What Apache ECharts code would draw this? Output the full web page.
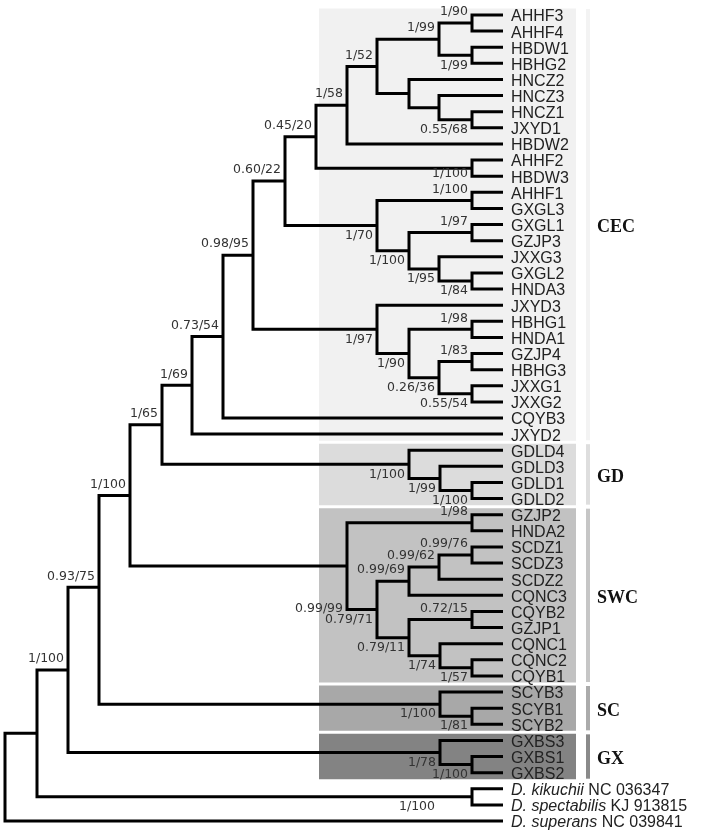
<!DOCTYPE html>
<html>
<head>
<meta charset="utf-8">
<script src="https://cdn.jsdelivr.net/npm/echarts@6/dist/echarts.min.js"></script>
<style>html,body{margin:0;padding:0;background:#fff}#c{width:708px;height:835px}</style>
</head>
<body>
<div id="c"></div>
<script>
// ---- DATA ----
// Leaf order, top to bottom
const leaves = ['AHHF3','AHHF4','HBDW1','HBHG2','HNCZ2','HNCZ3','HNCZ1','JXYD1','HBDW2','AHHF2',
  'HBDW3','AHHF1','GXGL3','GXGL1','GZJP3','JXXG3','GXGL2','HNDA3','JXYD3','HBHG1',
  'HNDA1','GZJP4','HBHG3','JXXG1','JXXG2','CQYB3','JXYD2','GDLD4','GDLD3','GDLD1',
  'GDLD2','GZJP2','HNDA2','SCDZ1','SCDZ3','SCDZ2','CQNC3','CQYB2','GZJP1','CQNC1',
  'CQNC2','CQYB1','SCYB3','SCYB1','SCYB2','GXBS3','GXBS1','GXBS2','kikuchii','spectabilis','superans'];
// Displayed names of leaves (rich text for italic species names)
const leafText = {
  kikuchii: '{i|D. kikuchii} NC 036347',
  spectabilis: '{i|D. spectabilis} KJ 913815',
  superans: '{i|D. superans} NC 039841'
};
// Tip position (all tips aligned)
const tipDepth = 503;
// Internal nodes: [id, depth, upper child, lower child, support (PP/BS)]
const internalNodes = [
  ['root', 5, 'nA', 'superans', ''],
  ['nA', 37, 'nB', 'nOut', ''],
  ['nOut', 472, 'kikuchii', 'spectabilis', '1/100'],
  ['nB', 68, 'nC', 'nGX', '1/100'],
  ['nGX', 440, 'GXBS3', 'nGXb', '1/78'],
  ['nGXb', 472, 'GXBS1', 'GXBS2', '1/100'],
  ['nC', 99, 'nD', 'nSC', '0.93/75'],
  ['nSC', 440, 'SCYB3', 'nSCb', '1/100'],
  ['nSCb', 472, 'SCYB1', 'SCYB2', '1/81'],
  ['nD', 130, 'nE', 'nSWC', '1/100'],
  ['nSWC', 347, 'ns1', 'ns2', '0.99/99'],
  ['ns1', 472, 'GZJP2', 'HNDA2', '1/98'],
  ['ns2', 377, 'ns3', 'ns4', '0.79/71'],
  ['ns3', 409, 'ns5', 'CQNC3', '0.99/69'],
  ['ns5', 439, 'ns6', 'SCDZ2', '0.99/62'],
  ['ns6', 472, 'SCDZ1', 'SCDZ3', '0.99/76'],
  ['ns4', 409, 'ns7', 'ns8', '0.79/11'],
  ['ns7', 472, 'CQYB2', 'GZJP1', '0.72/15'],
  ['ns8', 440, 'CQNC1', 'ns9', '1/74'],
  ['ns9', 472, 'CQNC2', 'CQYB1', '1/57'],
  ['nE', 162, 'nF', 'nGD', '1/65'],
  ['nGD', 409, 'GDLD4', 'ng1', '1/100'],
  ['ng1', 440, 'GDLD3', 'ng2', '1/99'],
  ['ng2', 472, 'GDLD1', 'GDLD2', '1/100'],
  ['nF', 192, 'nG', 'JXYD2', '1/69'],
  ['nG', 223, 'nH', 'CQYB3', '0.73/54'],
  ['nH', 253, 'nI', 'nY', '0.98/95'],
  ['nY', 377, 'JXYD3', 'nZ', '1/97'],
  ['nZ', 409, 'nZ1', 'nZ2', '1/90'],
  ['nZ1', 472, 'HBHG1', 'HNDA1', '1/98'],
  ['nZ2', 439, 'nZ3', 'nZ4', '0.26/36'],
  ['nZ3', 472, 'GZJP4', 'HBHG3', '1/83'],
  ['nZ4', 472, 'JXXG1', 'JXXG2', '0.55/54'],
  ['nI', 285, 'nJ', 'nS', '0.60/22'],
  ['nS', 377, 'nT', 'nU', '1/70'],
  ['nT', 472, 'AHHF1', 'GXGL3', '1/100'],
  ['nU', 409, 'nV', 'nW', '1/100'],
  ['nV', 472, 'GXGL1', 'GZJP3', '1/97'],
  ['nW', 439, 'JXXG3', 'nX', '1/95'],
  ['nX', 472, 'GXGL2', 'HNDA3', '1/84'],
  ['nJ', 316, 'nK', 'nR', '0.45/20'],
  ['nR', 472, 'AHHF2', 'HBDW3', '1/100'],
  ['nK', 347, 'nL', 'HBDW2', '1/58'],
  ['nL', 377, 'nM', 'nO', '1/52'],
  ['nM', 439, 'nN1', 'nN2', '1/99'],
  ['nN1', 472, 'AHHF3', 'AHHF4', '1/90'],
  ['nN2', 472, 'HBDW1', 'HBHG2', '1/99'],
  ['nO', 409, 'HNCZ2', 'nP', ''],
  ['nP', 439, 'HNCZ3', 'nQ', ''],
  ['nQ', 472, 'HNCZ1', 'JXYD1', '0.55/68']
];
// Node drawn off-midpoint in the figure (leaf-row units)
const nodeRowOverride = { nC: 35.5 };
// Clades
const groupNames = ['CEC', 'GD', 'SWC', 'SC', 'GX'];
const groupFirstLeaf = [0, 27, 31, 42, 45];
const groupLastLeaf = [26, 30, 41, 44, 47];

// ---- STYLE / LAYOUT ----
const panelColors = ['#f1f1f1', '#dcdcdc', '#c2c2c2', '#a8a8a8', '#838383'];
const barColors = ['#f3f3f3', '#dedede', '#c6c6c6', '#ababab', '#8a8a8a'];
const panelLeft = 319, panelRight = 576, barLeft = 586, barRight = 590, groupLabelX = 597;
const labelNudge = { nSWC: [0, 33], nOut: [-33, 0], nR: [0, -4] };

// ---- LAYOUT COMPUTATION ----
const leafIndex = {};
leaves.forEach((n, i) => { leafIndex[n] = i; });
const nodeMap = {};
internalNodes.forEach(r => { nodeMap[r[0]] = { id: r[0], x: r[1], kids: [r[2], r[3]], support: r[4] }; });
const parentOf = {};
internalNodes.forEach(r => { parentOf[r[2]] = r[0]; parentOf[r[3]] = r[0]; });
function rowOf(id) {
  if (id in leafIndex) return leafIndex[id];
  const n = nodeMap[id];
  if (n.y === undefined) {
    n.y = (id in nodeRowOverride) ? nodeRowOverride[id] : (rowOf(n.kids[0]) + rowOf(n.kids[1])) / 2;
  }
  return n.y;
}
function depthOf(id) { return (id in leafIndex) ? tipDepth : nodeMap[id].x; }

const branchData = internalNodes.map(r => [r[1], rowOf(r[2]), rowOf(r[3]), depthOf(r[2]), depthOf(r[3])]);
const supportItems = internalNodes.filter(r => r[4]).map(r => {
  const p = nodeMap[parentOf[r[0]]];
  return { id: r[0], text: r[4], x: r[1], y: rowOf(r[0]), above: p.kids[0] === r[0] };
});
const leafItems = leaves.map((n, i) => ({ text: leafText[n] || n, x: tipDepth, y: i }));

const chart = echarts.init(document.getElementById('c'), null, { renderer: 'canvas' });
chart.setOption({
  backgroundColor: '#ffffff',
  animation: false,
  grid: { left: 0, right: 0, top: 15, bottom: 14 },
  xAxis: { type: 'value', min: 0, max: 708, show: false },
  yAxis: { type: 'value', min: 0, max: 50, inverse: true, show: false },
  series: [
    { // clade panels and side bars
      type: 'custom', clip: false, silent: true, z: 1,
      data: groupNames.map((g, i) => [panelLeft, panelRight, groupFirstLeaf[i] - 0.5, groupLastLeaf[i] + 0.5]),
      renderItem: (params, api) => {
        const i = params.dataIndex;
        const a = api.coord([api.value(0), api.value(2)]);
        const b = api.coord([api.value(1), api.value(3)]);
        const c1 = api.coord([barLeft, api.value(2)]);
        const c2 = api.coord([barRight, api.value(3)]);
        return { type: 'group', children: [
          { type: 'rect', shape: { x: a[0], y: a[1] + 1.5, width: b[0] - a[0], height: b[1] - a[1] - 3 }, style: { fill: panelColors[i] } },
          { type: 'rect', shape: { x: c1[0], y: c1[1] + 2, width: c2[0] - c1[0], height: c2[1] - c1[1] - 4 }, style: { fill: barColors[i] } },
          { type: 'text', style: { text: groupNames[i], x: groupLabelX, y: (a[1] + b[1]) / 2 + 3,
              font: 'bold 18px "Liberation Serif", "Times New Roman", serif', fill: '#111', textAlign: 'left', textVerticalAlign: 'middle' } }
        ] };
      }
    },
    { // branches
      type: 'custom', clip: false, silent: true, z: 3,
      data: branchData,
      renderItem: (params, api) => {
        const nx = api.value(0), y1 = api.value(1), y2 = api.value(2), c1 = api.value(3), c2 = api.value(4);
        const pts = [api.coord([c1, y1]), api.coord([nx, y1]), api.coord([nx, y2]), api.coord([c2, y2])];
        return { type: 'polyline', shape: { points: pts },
          style: { stroke: '#000', lineWidth: 3, fill: null, lineJoin: 'miter', lineCap: 'butt' } };
      }
    },
    { // support values
      type: 'custom', clip: false, silent: true, z: 4,
      data: supportItems.map(d => [d.x, d.y]),
      renderItem: (params, api) => {
        const d = supportItems[params.dataIndex];
        const p = api.coord([api.value(0), api.value(1)]);
        const nud = labelNudge[d.id] || [0, 0];
        return { type: 'text', style: { text: d.text, x: p[0] - 4 + nud[0], y: p[1] + (d.above ? -11 : 10) + nud[1],
          font: '12.5px "DejaVu Sans", Verdana, sans-serif', fill: '#333', textAlign: 'right', textVerticalAlign: 'middle' } };
      }
    },
    { // leaf names
      type: 'custom', clip: false, silent: true, z: 4,
      data: leafItems.map(d => [d.x, d.y]),
      renderItem: (params, api) => {
        const d = leafItems[params.dataIndex];
        const p = api.coord([api.value(0), api.value(1)]);
        return { type: 'text', style: { text: d.text, x: p[0] + 8, y: p[1] + 2,
          font: '16px "Liberation Sans", Arial, sans-serif', fill: '#222', textAlign: 'left', textVerticalAlign: 'middle',
          rich: { i: { fontStyle: 'italic', fontSize: 16, fontFamily: '"Liberation Sans", Arial, sans-serif', fill: '#222', color: '#222' } } } };
      }
    }
  ]
});
</script>
</body>
</html>
